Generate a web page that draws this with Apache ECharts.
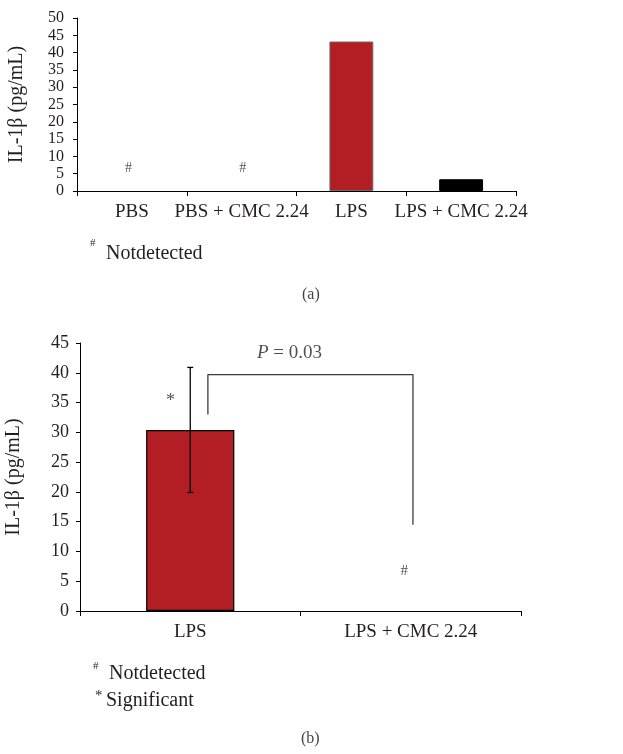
<!DOCTYPE html>
<html><head><meta charset="utf-8">
<script src="https://cdn.jsdelivr.net/npm/echarts@6/dist/echarts.min.js"></script>
<style>html,body{margin:0;padding:0;background:#fff}#c{width:623px;height:754px}</style>
</head><body><div id="c"></div>
<script>
// Panel (a)
const catsA = ['PBS', 'PBS + CMC 2.24', 'LPS', 'LPS + CMC 2.24'];
const valsA = [0, 0, 43.2, 3.4];
const colorsA = ['#b31e24', '#b31e24', '#b31e24', '#000000'];
const notDetA = [[-0.03, 6.5], [1.01, 6.5]];   // '#' marks (category index, y)
// Panel (b)
const catsB = ['LPS', 'LPS + CMC 2.24'];
const valsB = [30.4, 0];
const errB = [10.5, 0];
const starB = [[-0.09, 35.3]];
const notDetB = [[0.97, 6.7]];
const bracketB = [[0.08, 33], [0.08, 39.7], [1.01, 39.7], [1.01, 14.5]];
const pLabelB = [[0.45, 43.3]];

const FONT = '"Liberation Serif", "DejaVu Serif", serif';
const TXT = '#231f20';

const chart = echarts.init(document.getElementById('c'), null, {renderer: 'canvas'});

const catAxis = (gi, data) => ({
  type: 'category', gridIndex: gi, data: data,
  axisLine: {onZero: false, lineStyle: {color: '#000', width: 1}},
  axisTick: {show: true, length: 5, lineStyle: {color: '#000'}},
  axisLabel: {interval: 0, color: TXT, fontFamily: FONT, fontSize: 19, margin: 12}
});
const hidX = (gi, max) => ({
  type: 'value', gridIndex: gi, min: -0.5, max: max, show: false
});
const valAxis = (gi, max, name, gap, fs, m) => ({
  type: 'value', gridIndex: gi, min: 0, max: max, interval: 5,
  name: name, nameLocation: 'middle', nameGap: gap, nameRotate: 90,
  nameTextStyle: {color: TXT, fontFamily: FONT, fontSize: 20},
  axisLine: {show: true, onZero: false, lineStyle: {color: '#000', width: 1}},
  axisTick: {show: true, length: 4, lineStyle: {color: '#000'}},
  axisLabel: {color: TXT, fontFamily: FONT, fontSize: fs, margin: m,
              showMinLabel: true, showMaxLabel: true, hideOverlap: false},
  splitLine: {show: false}
});

const markLabel = (txt, size) => ({
  show: true, position: 'inside', formatter: txt,
  color: TXT, fontFamily: FONT, fontSize: size
});

chart.setOption({
  animation: false,
  grid: [
    {left: 77, right: 107, top: 18, height: 173, containLabel: false, outerBoundsMode: 'none'},
    {left: 80, right: 102, top: 343, height: 268, containLabel: false, outerBoundsMode: 'none'}
  ],
  xAxis: [catAxis(0, catsA), catAxis(1, catsB), hidX(0, 3.5), hidX(1, 1.5)],
  yAxis: [valAxis(0, 50, 'IL-1β (pg/mL)', 50, 16, 13), valAxis(1, 45, 'IL-1β (pg/mL)', 56, 18, 11)],
  series: [
    {
      type: 'bar', xAxisIndex: 0, yAxisIndex: 0, barWidth: '40%',
      data: valsA.map((v, i) => ({
        value: v,
        itemStyle: {color: colorsA[i], borderColor: i === 2 ? '#6b6b6b' : '#000', borderWidth: v === 0 ? 0 : 1}
      }))
    },
    {
      type: 'scatter', xAxisIndex: 2, yAxisIndex: 0, symbolSize: 1,
      itemStyle: {color: 'rgba(0,0,0,0)'},
      label: markLabel('#', 14), data: notDetA
    },
    {
      type: 'bar', xAxisIndex: 1, yAxisIndex: 1, barWidth: '40%',
      data: valsB.map(v => ({
        value: v,
        itemStyle: {color: '#b31e24', borderColor: '#000', borderWidth: v === 0 ? 0 : 1.2}
      }))
    },
    {
      type: 'custom', xAxisIndex: 1, yAxisIndex: 1, z: 5,
      data: valsB.map((v, i) => [i, v - errB[i], v + errB[i]]),
      renderItem: function (params, api) {
        if (api.value(2) === api.value(1)) return null;
        const lo = api.coord([api.value(0), api.value(1)]);
        const hi = api.coord([api.value(0), api.value(2)]);
        const w = 3;
        const st = {stroke: '#000', lineWidth: 1.3};
        return {type: 'group', children: [
          {type: 'line', shape: {x1: hi[0], y1: hi[1], x2: lo[0], y2: lo[1]}, style: st},
          {type: 'line', shape: {x1: hi[0] - w, y1: hi[1], x2: hi[0] + w, y2: hi[1]}, style: st},
          {type: 'line', shape: {x1: lo[0] - w, y1: lo[1], x2: lo[0] + w, y2: lo[1]}, style: st}
        ]};
      }
    },
    {
      type: 'line', xAxisIndex: 3, yAxisIndex: 1, data: bracketB,
      symbol: 'none', lineStyle: {color: '#3a3a3a', width: 1.3}
    },
    {
      type: 'scatter', xAxisIndex: 3, yAxisIndex: 1, symbolSize: 1,
      itemStyle: {color: 'rgba(0,0,0,0)'},
      label: markLabel('*', 18), data: starB
    },
    {
      type: 'scatter', xAxisIndex: 3, yAxisIndex: 1, symbolSize: 1,
      itemStyle: {color: 'rgba(0,0,0,0)'},
      label: markLabel('#', 15), data: notDetB
    },
    {
      type: 'scatter', xAxisIndex: 3, yAxisIndex: 1, symbolSize: 1,
      itemStyle: {color: 'rgba(0,0,0,0)'},
      label: {
        show: true, position: 'inside', formatter: '{i|P} = 0.03',
        color: TXT, fontFamily: FONT, fontSize: 19,
        rich: {i: {fontStyle: 'italic', fontFamily: FONT, fontSize: 19, color: TXT}}
      },
      data: pLabelB
    }
  ],
  graphic: [
    {type: 'text', left: 90, top: 238, style: {text: '#', font: '11px ' + FONT, fill: TXT}},
    {type: 'text', left: 106, top: 244, style: {text: 'Notdetected', font: '20px ' + FONT, fill: TXT}},
    {type: 'text', left: 302, top: 287, style: {text: '(a)', font: '16px ' + FONT, fill: '#444'}},
    {type: 'text', left: 93, top: 661, style: {text: '#', font: '11px ' + FONT, fill: TXT}},
    {type: 'text', left: 109, top: 664, style: {text: 'Notdetected', font: '20px ' + FONT, fill: TXT}},
    {type: 'text', left: 95, top: 689, style: {text: '*', font: '15px ' + FONT, fill: TXT}},
    {type: 'text', left: 106, top: 691, style: {text: 'Significant', font: '20px ' + FONT, fill: TXT}},
    {type: 'text', left: 301, top: 731, style: {text: '(b)', font: '16px ' + FONT, fill: '#444'}}
  ]
});
</script></body></html>
